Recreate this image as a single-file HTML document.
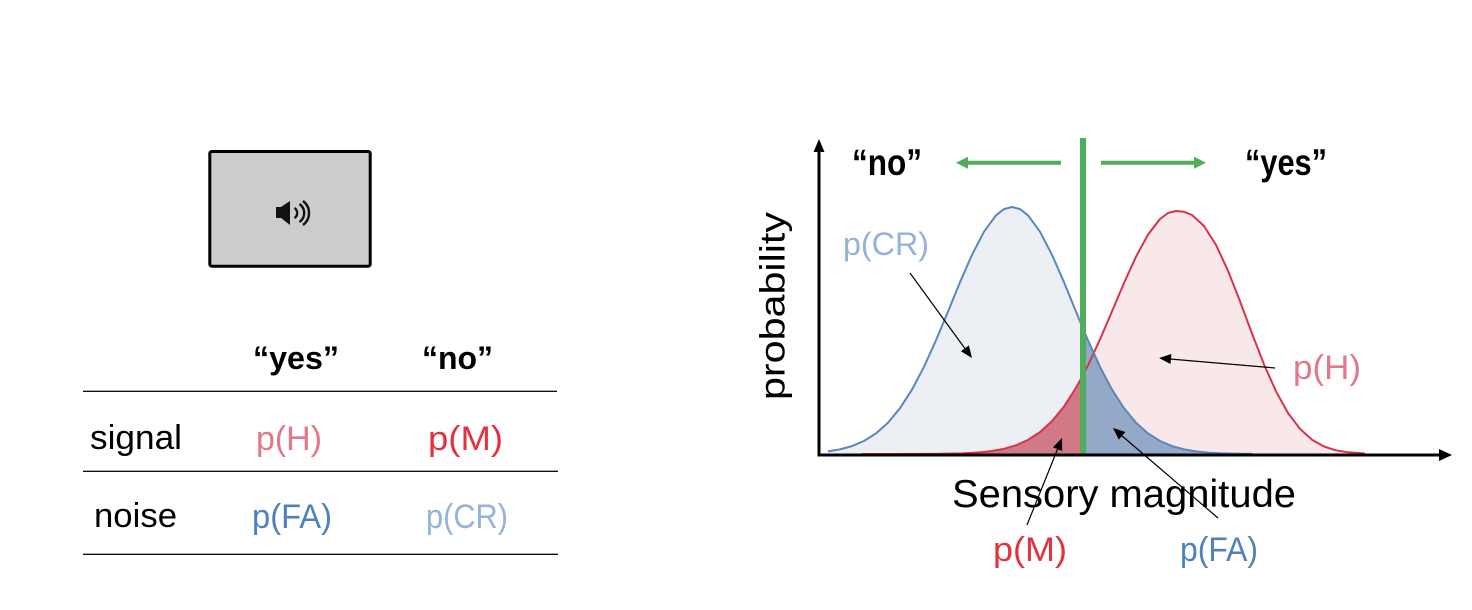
<!DOCTYPE html>
<html>
<head>
<meta charset="utf-8">
<style>
  html, body { margin:0; padding:0; background:#ffffff; }
  body { width:1472px; height:610px; overflow:hidden; }
  svg { display:block; }
  text { font-family: "Liberation Sans", "DejaVu Sans", sans-serif; }
</style>
</head>
<body>
<svg width="1472" height="610" viewBox="0 0 1472 610" xmlns="http://www.w3.org/2000/svg">
  <rect x="0" y="0" width="1472" height="610" fill="#ffffff"/>

  <!-- ===== LEFT PANEL ===== -->
  <rect x="209.8" y="151.5" width="160.4" height="114.7" rx="2" ry="2" fill="#cccccc" stroke="#000" stroke-width="3"/>
  <rect x="276" y="207" width="5" height="11" fill="#111"/>
  <polygon points="281,207 290,201 290,225 281,218" fill="#111"/>
  <path d="M294.5,208 A6,6 0 0 1 294.5,218" fill="none" stroke="#111" stroke-width="2.4"/>
  <path d="M299.5,204 A11,11 0 0 1 299.5,222" fill="none" stroke="#111" stroke-width="2.4"/>
  <path d="M303,201 A15,15 0 0 1 303,225" fill="none" stroke="#111" stroke-width="2.4"/>

  <text x="253" y="369" font-size="32" font-weight="bold" fill="#000" textLength="86" lengthAdjust="spacingAndGlyphs">“yes”</text>
  <text x="422" y="369" font-size="32" font-weight="bold" fill="#000" textLength="71" lengthAdjust="spacingAndGlyphs">“no”</text>

  <line x1="83" y1="391.3" x2="557" y2="391.3" stroke="#111" stroke-width="1.4"/>
  <line x1="83" y1="471.3" x2="558" y2="471.3" stroke="#111" stroke-width="1.4"/>
  <line x1="83" y1="554.3" x2="558" y2="554.3" stroke="#111" stroke-width="1.4"/>

  <text x="90" y="449" font-size="34" fill="#000" textLength="92" lengthAdjust="spacingAndGlyphs">signal</text>
  <text x="256" y="450" font-size="34" fill="#e07a8a" textLength="66" lengthAdjust="spacingAndGlyphs">p(H)</text>
  <text x="428" y="450" font-size="34" fill="#e2323f" textLength="75" lengthAdjust="spacingAndGlyphs">p(M)</text>

  <text x="94" y="527" font-size="34" fill="#000" textLength="83" lengthAdjust="spacingAndGlyphs">noise</text>
  <text x="252" y="528" font-size="34" fill="#4f81bd" textLength="80" lengthAdjust="spacingAndGlyphs">p(FA)</text>
  <text x="426" y="528" font-size="34" fill="#95b3d7" textLength="82" lengthAdjust="spacingAndGlyphs">p(CR)</text>

  <!-- ===== RIGHT PANEL ===== -->
  <polygon fill="#ecf0f5" points="828,454 828,451.4 840,449.4 852,446.1 864,441.0 876,433.4 888,422.7 900,408.2 912,389.6 924,366.8 936,340.3 948,311.6 960,282.2 972,254.8 984,231.7 996,215.3 1004,209.1 1012,207 1020,209.1 1028,215.3 1040,231.7 1052,254.8 1064,282.2 1076,311.6 1083,328.5 1088,340.3 1100,366.8 1112,389.6 1124,408.2 1136,422.7 1148,433.4 1160,441.0 1172,446.1 1184,449.4 1196,451.4 1208,452.6 1220,453.3 1232,453.6 1252,453.9 1252,454"/>
  <polygon fill="#f8e8ea" points="862,454 936,453.9 962,453.4 980,452.4 992,451.0 1004,448.8 1016,445.3 1028,439.9 1040,432.1 1052,421.1 1064,406.5 1076,387.8 1083,375.0 1088,365.3 1100,339.4 1112,311.4 1124,283.0 1136,256.7 1148,234.6 1160,219.0 1168,213.0 1176,211 1184,211.8 1192,215.0 1204,226.0 1216,244.9 1228,270.7 1240,301.3 1252,333.5 1264,364.4 1276,391.3 1288,413.0 1300,428.9 1312,439.7 1324,446.5 1336,450.3 1348,452.3 1365,453.5 1365,454"/>
  <polygon fill="#d07a88" points="862,454 936,453.9 962,453.4 980,452.4 992,451.0 1004,448.8 1016,445.3 1028,439.9 1040,432.1 1052,421.1 1064,406.5 1076,387.8 1083,375.0 1083,454"/>
  <polygon fill="#94a9c7" points="1083,454 1083,328.5 1088,340.3 1100,366.8 1112,389.6 1124,408.2 1136,422.7 1148,433.4 1160,441.0 1172,446.1 1184,449.4 1196,451.4 1208,452.6 1220,453.3 1232,453.6 1252,453.9 1252,454"/>

  <polyline fill="none" stroke="#d9334b" stroke-width="2" stroke-linejoin="round" points="862,454 936,453.9 962,453.4 980,452.4 992,451.0 1004,448.8 1016,445.3 1028,439.9 1040,432.1 1052,421.1 1064,406.5 1076,387.8 1083,375.0 1088,365.3 1100,339.4 1112,311.4 1124,283.0 1136,256.7 1148,234.6 1160,219.0 1168,213.0 1176,211 1184,211.8 1192,215.0 1204,226.0 1216,244.9 1228,270.7 1240,301.3 1252,333.5 1264,364.4 1276,391.3 1288,413.0 1300,428.9 1312,439.7 1324,446.5 1336,450.3 1348,452.3 1365,453.5"/>
  <polyline fill="none" stroke="#5a87bd" stroke-width="2" stroke-linejoin="round" points="828,451.4 840,449.4 852,446.1 864,441.0 876,433.4 888,422.7 900,408.2 912,389.6 924,366.8 936,340.3 948,311.6 960,282.2 972,254.8 984,231.7 996,215.3 1004,209.1 1012,207 1020,209.1 1028,215.3 1040,231.7 1052,254.8 1064,282.2 1076,311.6 1083,328.5 1088,340.3 1100,366.8 1112,389.6 1124,408.2 1136,422.7 1148,433.4 1160,441.0 1172,446.1 1184,449.4 1196,451.4 1208,452.6 1220,453.3 1232,453.6 1252,453.9"/>

  <rect x="1080" y="138" width="6" height="317" fill="#4fad5b"/>

  <line x1="1061" y1="162.7" x2="966" y2="162.7" stroke="#4fad5b" stroke-width="4"/>
  <polygon points="956,162.7 968,156.7 968,168.7" fill="#4fad5b"/>
  <line x1="1101" y1="162.7" x2="1196" y2="162.7" stroke="#4fad5b" stroke-width="4"/>
  <polygon points="1206,162.7 1194,156.7 1194,168.7" fill="#4fad5b"/>

  <line x1="819" y1="456.5" x2="819" y2="150" stroke="#000" stroke-width="3"/>
  <polygon points="819,139 813.5,152 824.5,152" fill="#000"/>
  <line x1="817.5" y1="455" x2="1441" y2="455" stroke="#000" stroke-width="3"/>
  <polygon points="1452,455 1439,449 1439,461" fill="#000"/>

  <text x="852" y="175" font-size="37" font-weight="bold" fill="#000" textLength="70" lengthAdjust="spacingAndGlyphs">“no”</text>
  <text x="1245" y="175" font-size="37" font-weight="bold" fill="#000" textLength="82" lengthAdjust="spacingAndGlyphs">“yes”</text>

  <text transform="translate(784.5,400) rotate(-90)" font-size="35" fill="#000" textLength="188" lengthAdjust="spacingAndGlyphs">probability</text>
  <text x="952" y="507" font-size="39" fill="#000" textLength="344" lengthAdjust="spacingAndGlyphs">Sensory magnitude</text>

  <line x1="910" y1="273" x2="966" y2="350" stroke="#000" stroke-width="1.2"/>
  <polygon points="972,358 960.9,351.2 968.9,345.4" fill="#000"/>
  <line x1="1275" y1="368" x2="1170" y2="359" stroke="#000" stroke-width="1.2"/>
  <polygon points="1159,358 1171.4,354.0 1170.5,364.0" fill="#000"/>
  <line x1="1027" y1="525" x2="1058" y2="448" stroke="#000" stroke-width="1.2"/>
  <polygon points="1062,438 1062.2,451.0 1052.9,447.3" fill="#000"/>
  <line x1="1218" y1="518" x2="1121" y2="435" stroke="#000" stroke-width="1.2"/>
  <polygon points="1113,428 1125.4,432.0 1118.8,439.6" fill="#000"/>

  <text x="843" y="255" font-size="32" fill="#95b3d7" textLength="86" lengthAdjust="spacingAndGlyphs">p(CR)</text>
  <text x="1293" y="379" font-size="34" fill="#e07a8a" textLength="68" lengthAdjust="spacingAndGlyphs">p(H)</text>
  <text x="993" y="561" font-size="34" fill="#e2323f" textLength="74" lengthAdjust="spacingAndGlyphs">p(M)</text>
  <text x="1180" y="561" font-size="34" fill="#4f81bd" textLength="78" lengthAdjust="spacingAndGlyphs">p(FA)</text>
</svg>
</body>
</html>
